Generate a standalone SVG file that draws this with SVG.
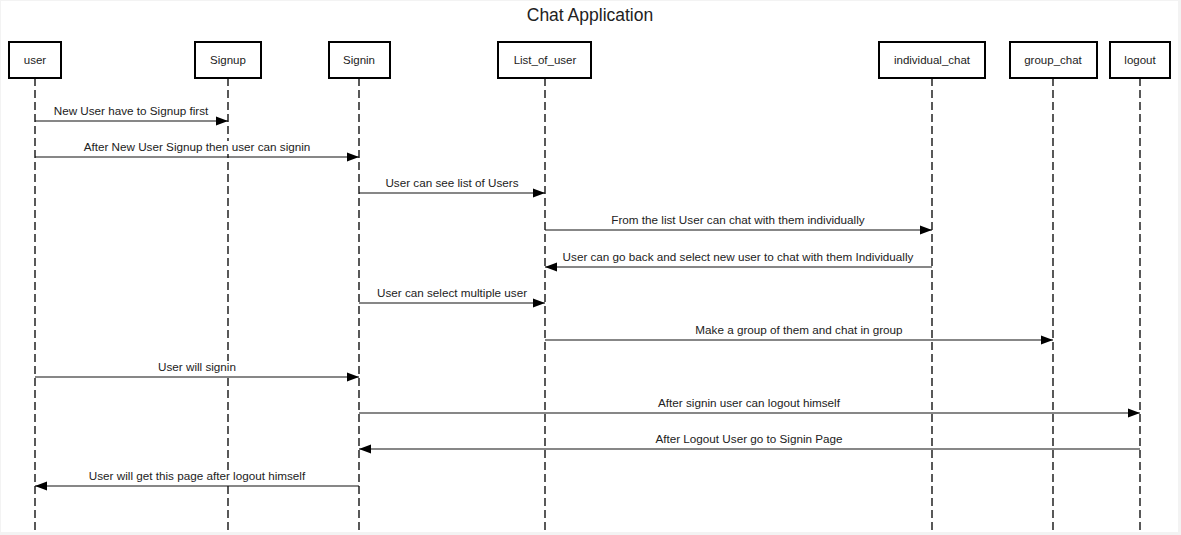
<svg xmlns="http://www.w3.org/2000/svg" width="1181" height="535" viewBox="0 0 1181 535">
<style>
.box{fill:#fff;stroke:#000;stroke-width:2}
.name{font-family:"Liberation Sans",Arial,sans-serif;font-size:11.5px;fill:#222;text-anchor:middle}
.lbl{font-family:"Liberation Sans",Arial,sans-serif;font-size:11.7px;fill:#222;text-anchor:middle}
.life{stroke:#000;stroke-width:1.3;stroke-dasharray:8,4;fill:none}
.msg{stroke:#111;stroke-width:1.1;fill:none}
.gap{fill:#fff}
.title{font-family:"Liberation Sans",Arial,sans-serif;font-size:17.5px;fill:#222;text-anchor:middle}
</style>
<defs>
<marker id="ah" viewBox="0 0 12 10" refX="12" refY="5" markerWidth="12" markerHeight="10" markerUnits="userSpaceOnUse" orient="auto">
<path d="M0,0.5 L12,5 L0,9.5 Z" fill="#000"/>
</marker>
</defs>
<rect x="0" y="0" width="1181" height="535" fill="#f3f3f3"/>
<rect x="1" y="1" width="1177" height="531" fill="#fff"/>
<text class="title" x="590" y="21">Chat Application</text>
<g id="lifelines">
<line class="life" x1="35" y1="78" x2="35" y2="532"/>
<line class="life" x1="228" y1="78" x2="228" y2="532"/>
<line class="life" x1="359" y1="78" x2="359" y2="532"/>
<line class="life" x1="545" y1="78" x2="545" y2="532"/>
<line class="life" x1="932" y1="78" x2="932" y2="532"/>
<line class="life" x1="1053" y1="78" x2="1053" y2="532"/>
<line class="life" x1="1140" y1="78" x2="1140" y2="532"/>
</g>
<g id="user"><rect class="box" x="9" y="42" width="52" height="36"/><text class="name" x="35" y="64">user</text></g>
<g id="signup"><rect class="box" x="195" y="42" width="66" height="36"/><text class="name" x="228" y="64">Signup</text></g>
<g id="signin"><rect class="box" x="329" y="42" width="61" height="36"/><text class="name" x="359" y="64">Signin</text></g>
<g id="list_of_user"><rect class="box" x="498" y="42" width="93" height="36"/><text class="name" x="545" y="64">List_of_user</text></g>
<g id="individual_chat"><rect class="box" x="879" y="42" width="106" height="36"/><text class="name" x="932" y="64">individual_chat</text></g>
<g id="group_chat"><rect class="box" x="1010" y="42" width="87" height="36"/><text class="name" x="1053" y="64">group_chat</text></g>
<g id="logout"><rect class="box" x="1110" y="42" width="60" height="36"/><text class="name" x="1140" y="64">logout</text></g>
<g id="connectors">
<line class="msg" x1="35" y1="121" x2="228" y2="121" marker-end="url(#ah)"/>
<text class="lbl" x="131" y="115">New User have to Signup first</text>
<line class="msg" x1="35" y1="157" x2="359" y2="157" marker-end="url(#ah)"/>
<rect class="gap" x="224" y="141" width="8" height="13"/>
<text class="lbl" x="197" y="151">After New User Signup then user can signin</text>
<line class="msg" x1="359" y1="193" x2="545" y2="193" marker-end="url(#ah)"/>
<text class="lbl" x="452" y="187">User can see list of Users</text>
<line class="msg" x1="545" y1="230" x2="932" y2="230" marker-end="url(#ah)"/>
<text class="lbl" x="738" y="224">From the list User can chat with them individually</text>
<line class="msg" x1="932" y1="267" x2="545" y2="267" marker-end="url(#ah)"/>
<text class="lbl" x="738" y="261">User can go back and select new user to chat with them Individually</text>
<line class="msg" x1="359" y1="303" x2="545" y2="303" marker-end="url(#ah)"/>
<text class="lbl" x="452" y="297">User can select multiple user</text>
<line class="msg" x1="545" y1="340" x2="1053" y2="340" marker-end="url(#ah)"/>
<text class="lbl" x="799" y="334">Make a group of them and chat in group</text>
<line class="msg" x1="35" y1="377" x2="359" y2="377" marker-end="url(#ah)"/>
<rect class="gap" x="224" y="361" width="8" height="13"/>
<text class="lbl" x="197" y="371">User will signin</text>
<line class="msg" x1="359" y1="413" x2="1140" y2="413" marker-end="url(#ah)"/>
<text class="lbl" x="749" y="407">After signin user can logout himself</text>
<line class="msg" x1="1140" y1="449" x2="359" y2="449" stroke="#666" stroke-width="1.4" fill="none" marker-end="url(#ah)"/>
<text class="lbl" x="749" y="443">After Logout User go to Signin Page</text>
<line class="msg" x1="359" y1="486" x2="35" y2="486" marker-end="url(#ah)"/>
<rect class="gap" x="224" y="470" width="8" height="13"/>
<text class="lbl" x="197" y="480">User will get this page after logout himself</text>
</g>
</svg>
